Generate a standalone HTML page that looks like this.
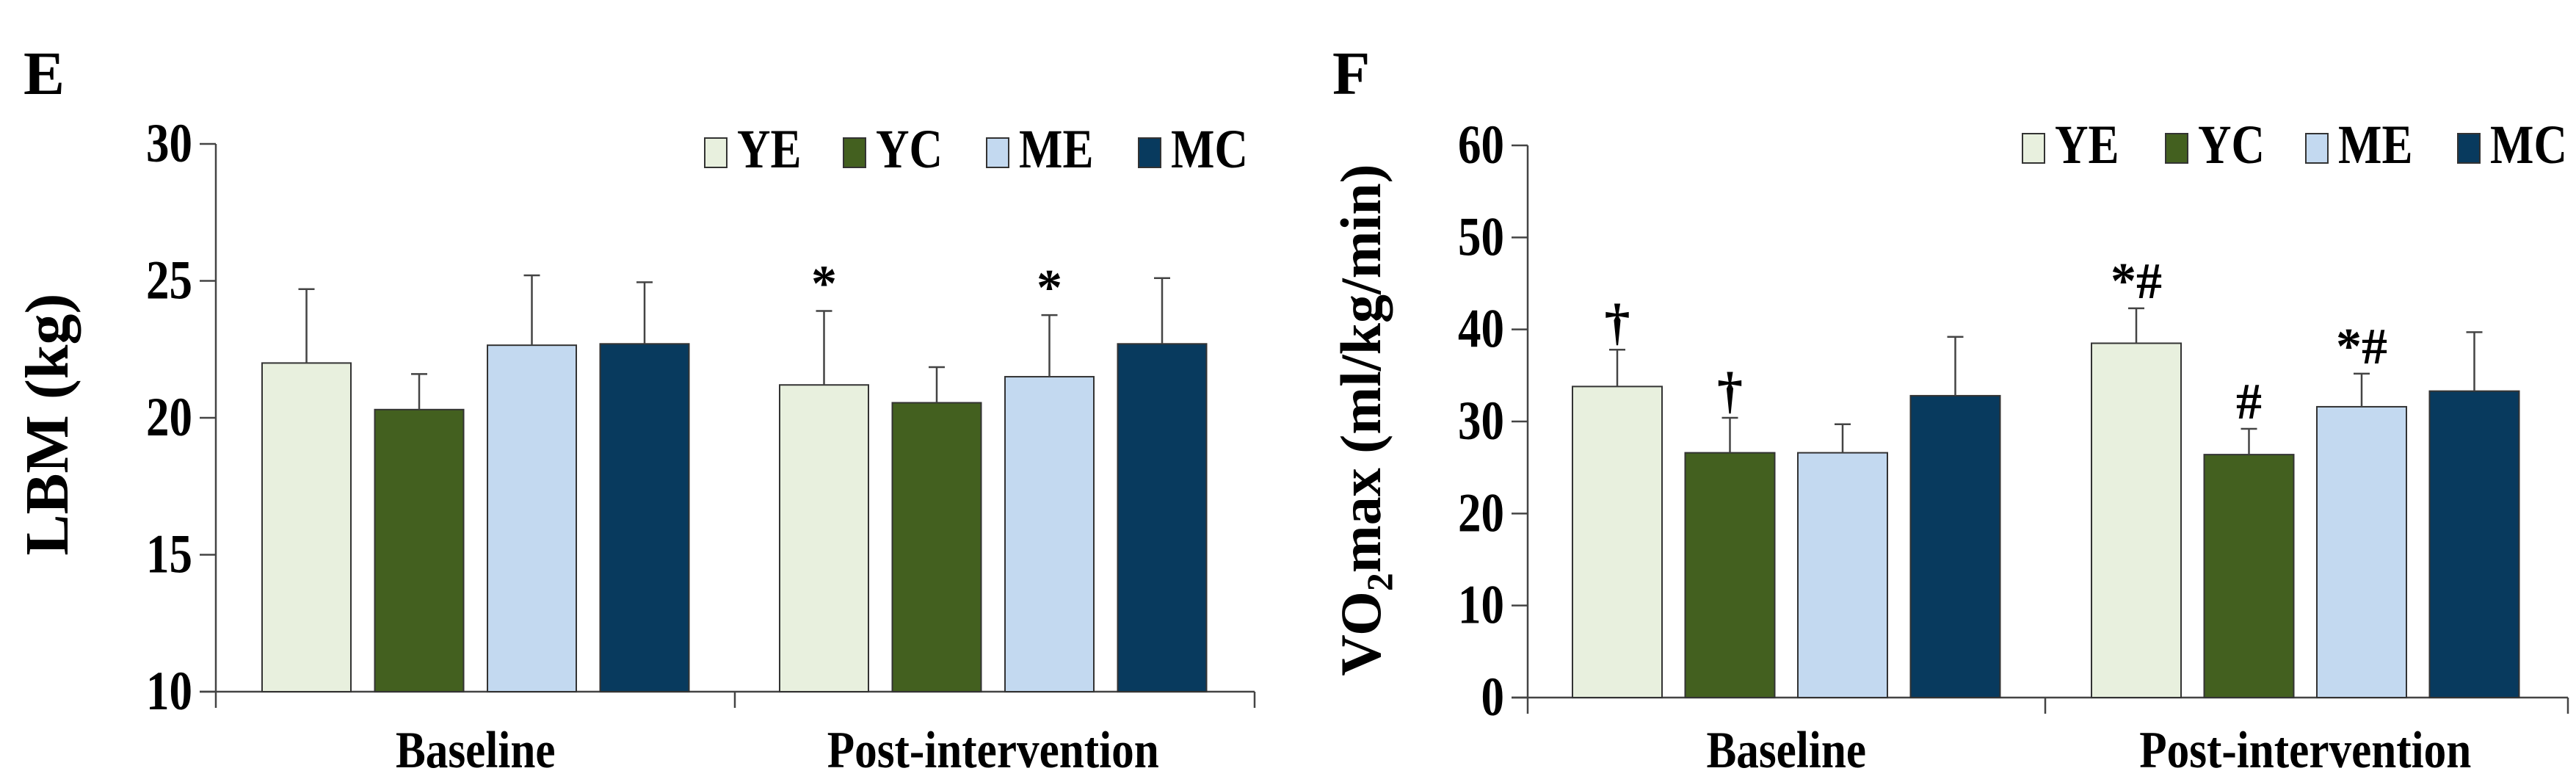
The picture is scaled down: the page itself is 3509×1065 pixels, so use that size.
<!DOCTYPE html>
<html><head><meta charset="utf-8"><style>
html,body{margin:0;padding:0;background:#fff}
svg{display:block}
text{font-family:"Liberation Serif",serif;font-weight:bold;fill:#000}
</style></head><body>
<svg id="c" width="3509" height="1065" viewBox="0 0 3509 1065" xmlns="http://www.w3.org/2000/svg"></svg>
<script>
const groups=["YE","YC","ME","MC"];
const colors=["#E8F0DE","#43601F","#C3D9F0","#083A5E"];
const categories=["Baseline","Post-intervention"];
const lbmMeans=[[22.0,20.3,22.65,22.7],[21.2,20.55,21.5,22.7]];
const lbmErr=[[2.7,1.3,2.55,2.25],[2.7,1.3,2.25,2.4]];
const lbmMarks=[["","","",""],["*","","*",""]];
const lbmTicks=[10,15,20,25,30];
const vo2Means=[[33.8,26.6,26.6,32.8],[38.5,26.4,31.6,33.3]];
const vo2Err=[[4.0,3.8,3.1,6.4],[3.8,2.8,3.6,6.4]];
const vo2Marks=[["†","†","",""],["*#","#","*#",""]];
const vo2Ticks=[0,10,20,30,40,50,60];

const svg=document.getElementById('c');
const NS="http://www.w3.org/2000/svg";
function mk(tag,attrs,parent){const e=document.createElementNS(NS,tag);for(const k in attrs)e.setAttribute(k,attrs[k]);(parent||svg).appendChild(e);return e;}

function panel(cfg){
  const g=mk('g',{});
  
  
  const y=v=>cfg.y0+(v-cfg.min)/(cfg.max-cfg.min)*(cfg.y1-cfg.y0);
  const lt=mk('text',{x:cfg.letterX,y:128,'font-size':84},g);lt.textContent=cfg.letter;
  
  const ax=mk('line',{x1:cfg.ax,y1:y(cfg.max),x2:cfg.ax,y2:y(cfg.min),stroke:'#444','stroke-width':2.5},g);
  
  const xa=mk('line',{x1:cfg.ax-22,y1:y(cfg.min),x2:cfg.xEnd,y2:y(cfg.min),stroke:'#444','stroke-width':2.5},g);
  
  [cfg.ax,cfg.mid,cfg.xEnd].forEach(x=>{mk('line',{x1:x,y1:y(cfg.min),x2:x,y2:y(cfg.min)+22,stroke:'#444','stroke-width':2.5},g);});
  cfg.ticks.forEach(t=>{
    mk('line',{x1:cfg.ax-22,y1:y(t),x2:cfg.ax,y2:y(t),stroke:'#444','stroke-width':2.5},g);
    const tx=mk('text',{x:0,y:0,'font-size':70,'text-anchor':'end',transform:`translate(${cfg.ax-32},${y(t)+24}) scale(0.9,1.08)`},g);
    tx.textContent=t;
    
    
  });
  const yt=mk('text',{x:0,y:0,'font-size':cfg.titleSize,'text-anchor':'middle',transform:`translate(${cfg.titleX},${cfg.titleY}) rotate(-90)`},g);
  
  if(cfg.sub){yt.appendChild(document.createTextNode('VO'));const s=mk('tspan',{'font-size':50,dy:16},yt);s.textContent='2';const r=mk('tspan',{dy:-16},yt);r.textContent='max (ml/kg/min)';}
  else yt.textContent=cfg.title;
  categories.forEach((c,ci)=>{
    const cx=cfg.catStart[ci];
    const lab=mk('text',{x:0,y:0,'font-size':68,'text-anchor':'middle',transform:`translate(${cx+cfg.step*1.5+cfg.bw/2},1045) scale(0.9,1.05)`},g);
    lab.textContent=c;
    
    
    groups.forEach((gr,i)=>{
      const v=cfg.means[ci][i],e=cfg.err[ci][i];
      const x=cx+i*cfg.step;
      const b=mk('rect',{x:x,y:y(v),width:cfg.bw,height:y(cfg.min)-y(v),fill:colors[i],stroke:'#333','stroke-width':2},g);
      
      
      const mx=x+cfg.bw/2;
      const el=mk('line',{x1:mx,y1:y(v),x2:mx,y2:y(v+e),stroke:'#444','stroke-width':2.5},g);
      
      mk('line',{x1:mx-11,y1:y(v+e),x2:mx+11,y2:y(v+e),stroke:'#444','stroke-width':2.5},g);
      const m=cfg.marks[ci][i];
      if(m){const t=mk('text',{x:mx,y:y(v+e)-14,'font-size':70,'font-weight':'normal','text-anchor':'middle'},g);t.textContent=m;
        }
    });
  });
  groups.forEach((gr,i)=>{
    const lx=cfg.legX[i];
    const r=mk('rect',{x:lx,y:cfg.legY-40,width:30,height:40,fill:colors[i],stroke:'#333','stroke-width':2},g);
    
    const t=mk('text',{x:0,y:0,'font-size':70,transform:`translate(${lx+44},${cfg.legY}) scale(0.9,1.08)`},g);t.textContent=gr;
    
  });
}
panel({name:'lbm-chart',letter:'E',letterX:32,min:10,max:30,y0:942,y1:196,ax:294,xEnd:1709,mid:1001,
  ticks:lbmTicks,means:lbmMeans,err:lbmErr,marks:lbmMarks,catStart:[357,1062],step:153.5,bw:121,
  title:'LBM (kg)',titleSize:84,titleX:92,titleY:578,legX:[960,1149,1344,1551],legY:228});
panel({name:'vo2max-chart',letter:'F',letterX:1815,min:0,max:60,y0:950,y1:198,ax:2081,xEnd:3498,mid:2786,
  ticks:vo2Ticks,means:vo2Means,err:vo2Err,marks:vo2Marks,catStart:[2142,2849],step:153.5,bw:122,
  sub:true,titleSize:78,titleX:1880,titleY:572,legX:[2755,2950,3141,3348],legY:222});
</script>
</body></html>
